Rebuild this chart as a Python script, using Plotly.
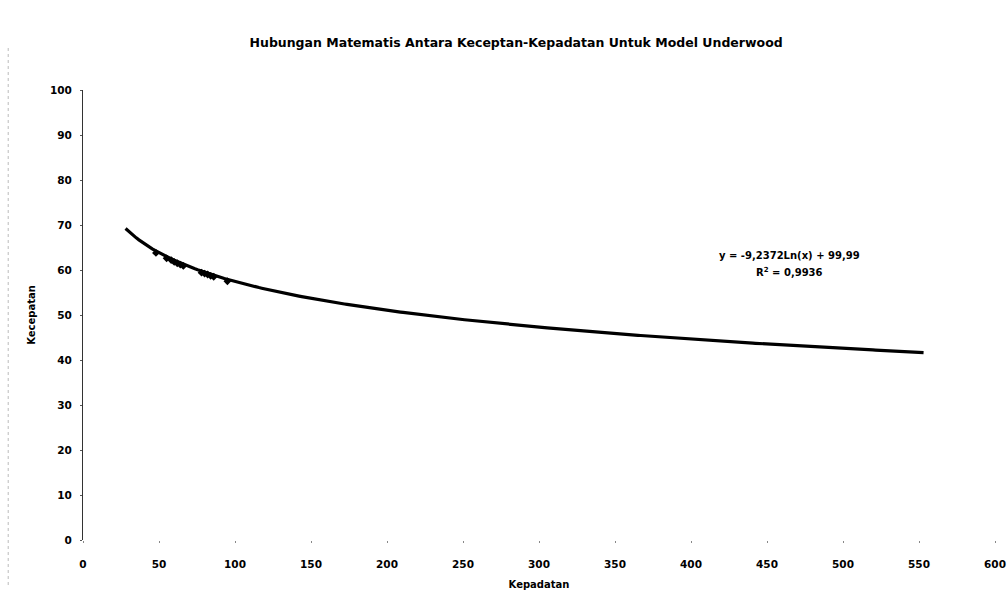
import numpy as np
import plotly.graph_objects as go

# Observed data (Kepadatan vs Kecepatan)
kepadatan = [48, 55, 58, 60, 62, 64, 66, 78, 80, 82, 84, 86, 95]
kecepatan = [63.8, 62.6, 62.2, 61.8, 61.5, 61.2, 60.9, 59.4, 59.2, 59.0, 58.7, 58.5, 57.5]

# Logarithmic trendline as shown on the chart
coef_a = -9.2372
coef_b = 99.99
trend_x_start = 28
trend_x_end = 553

x_ticks = list(range(0, 601, 50))
y_ticks = list(range(0, 101, 10))

trend_x = np.linspace(trend_x_start, trend_x_end, 300)
trend_y = coef_a * np.log(trend_x) + coef_b

FONT = "DejaVu Sans"

fig = go.Figure()
fig.add_trace(go.Scatter(x=kepadatan, y=kecepatan, mode="markers",
                         marker=dict(symbol="diamond", size=6, color="black"),
                         showlegend=False))
fig.add_trace(go.Scatter(x=trend_x, y=trend_y, mode="lines",
                         line=dict(color="black", width=3.2),
                         showlegend=False))

fig.add_annotation(x=465, y=63.2, xref="x", yref="y",
                   text="y = -9,2372Ln(x) + 99,99", showarrow=False,
                   font=dict(family=FONT, size=10, color="black", weight="bold"))
fig.add_annotation(x=465, y=59.5, xref="x", yref="y",
                   text="R<sup>2</sup> = 0,9936", showarrow=False,
                   font=dict(family=FONT, size=10, color="black", weight="bold"))

# faint scan border on the left
fig.add_shape(type="line", xref="paper", yref="paper", x0=-0.082, x1=-0.082,
              y0=-0.1, y1=1.1, line=dict(color="#bbbbbb", width=1, dash="dot"))

fig.update_layout(
    width=1008, height=612,
    margin=dict(l=83, r=13, t=90, b=72),
    paper_bgcolor="white", plot_bgcolor="white",
    title=dict(text="Hubungan Matematis Antara Keceptan-Kepadatan Untuk Model Underwood",
               x=0.512, xanchor="center", y=0.931, yanchor="middle",
               font=dict(family=FONT, size=12.5, color="black", weight="bold")),
    font=dict(family=FONT, size=10, color="black"),
)
fig.update_xaxes(range=[0, 600], tickvals=x_ticks, showgrid=False, zeroline=False,
                 showline=False, ticks="outside", ticklen=2, tickcolor="#888888",
                 ticklabelstandoff=12, automargin=False,
                 tickfont=dict(family=FONT, size=10.5, color="black", weight="bold"),
                 title=dict(text="Kepadatan", standoff=12,
                            font=dict(family=FONT, size=10, color="black", weight="bold")))
fig.update_yaxes(range=[0, 100], tickvals=y_ticks, showgrid=False, zeroline=False,
                 showline=True, linecolor="#333333", linewidth=1,
                 ticks="outside", ticklen=2, tickcolor="#555555",
                 ticklabelstandoff=6, automargin=False,
                 tickfont=dict(family=FONT, size=10.5, color="black", weight="bold"),
                 title=dict(text="Kecepatan", standoff=12,
                            font=dict(family=FONT, size=10, color="black", weight="bold")))

fig.write_html("out.html")
